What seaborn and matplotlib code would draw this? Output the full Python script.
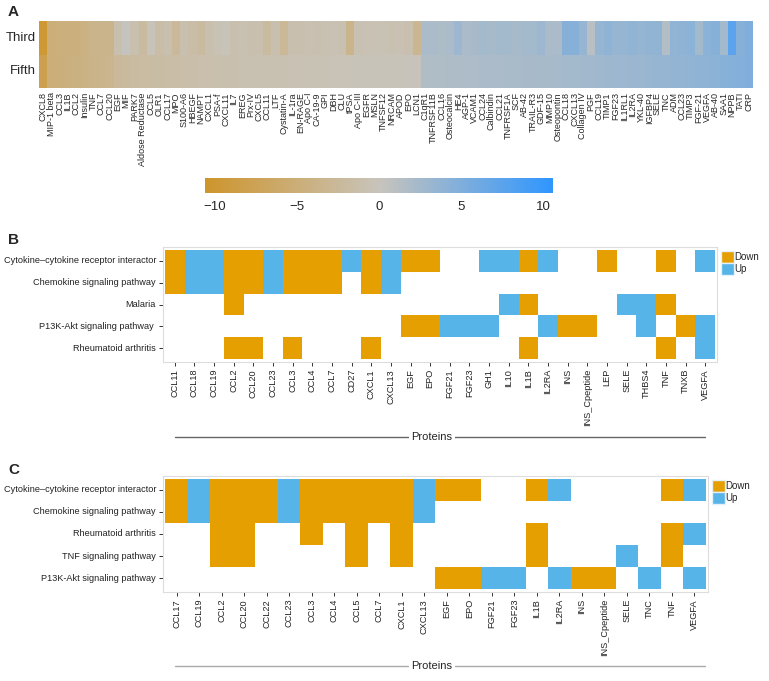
import numpy as np
import pandas as pd
import matplotlib
matplotlib.use("Agg")
import matplotlib.pyplot as plt
import seaborn as sns
from matplotlib.colors import LinearSegmentedColormap, ListedColormap
from matplotlib.patches import Patch
from matplotlib.lines import Line2D

# ---------------- panel A data ----------------
a_proteins = [
    "CXCL8", "MIP-1 beta", "CCL3", "IL1B", "CCL2", "Insulin", "TNF", "CCL7", "CCL20", "EGF",
    "MIF", "PARK7", "Aldose Reductase", "CCL5", "OLR1", "CCL17", "MPO", "S100-A6", "HBEGF", "NAMPT",
    "CXCL1", "PSA-f", "CXCL11", "IL7", "EREG", "Prx-IV", "CXCL5", "CCL11", "LTF", "Cystatin-A",
    "IL-1ra", "EN-RAGE", "Apo C-I", "CA-19-9", "GPI", "DBH", "CLU", "tPSA", "Apo C-III", "EGFR",
    "MSLN", "TNFSF12", "NRCAM", "APOD", "EPO", "LCN1", "C1qR1", "TNFRSF11B", "CCL16", "Osteocalcin",
    "HE4", "AGP-1", "VCAM1", "CCL24", "Calbindin", "CCL21", "TNFRSF1A", "SCF", "AB-42", "TRAIL-R3",
    "GDF-15", "MMP10", "Osteopontin", "CCL18", "CXCL13", "Collagen IV", "PGF", "CCL19", "TIMP1", "FGF23",
    "IL1RL1", "IL2RA", "YKL-40", "IGFBP4", "SELE", "TNC", "ADM", "CCL23", "TIMP3", "FGF-21",
    "VEGFA", "AB-40", "SAA1", "NPPB", "TATI", "CRP",
]
a_rows = ["Third", "Fifth"]
third = [
    -10.0, -5.0, -4.5, -4.5, -4.5, -4.0, -3.5, -3.5, -3.5, -1.0,
    0.3, -1.0, -2.0, -0.3, -1.5, -1.0, -2.5, -1.0, -1.5, -2.0,
    -1.0, -0.5, -0.2, -1.0, -0.8, -1.0, -1.0, -2.0, -1.0, -2.8,
    -1.0, -1.0, -0.8, -1.0, -0.8, -0.6, -0.8, -3.5, -0.8, -0.6,
    -0.5, -0.5, -0.8, -0.6, -1.0, -3.2, 2.0, 2.0, 1.8, 2.0,
    3.0, 2.0, 2.2, 2.5, 2.3, 2.5, 2.5, 2.3, 2.5, 2.5,
    3.0, 2.0, 2.0, 4.5, 4.5, 3.5, 1.0, 3.5, 4.0, 3.5,
    3.5, 3.8, 3.5, 3.8, 3.8, 1.5, 3.8, 4.0, 4.2, 2.5,
    4.2, 4.5, 2.5, 7.5, 4.5, 5.0,
]
fifth = [
    -8.0, -5.0, -4.8, -4.5, -4.3, -4.0, -3.8, -3.5, -3.3, -2.5,
    -2.3, -2.0, -1.9, -1.8, -1.7, -1.6, -1.5, -1.4, -1.3, -1.2,
    -1.2, -1.1, -1.0, -1.0, -0.9, -0.9, -0.8, -0.8, -0.7, -0.7,
    -0.6, -0.6, -0.5, -0.5, -0.5, -0.4, -0.4, -0.4, -0.3, -0.3,
    -0.3, -0.2, -0.2, -0.2, -0.1, -0.1, 1.6, 1.7, 1.7, 1.8,
    1.8, 1.9, 1.9, 2.0, 2.0, 2.0, 2.1, 2.1, 2.2, 2.2,
    2.3, 2.3, 2.4, 2.5, 2.5, 2.6, 2.7, 2.8, 2.9, 3.0,
    3.0, 3.1, 3.2, 3.3, 3.4, 3.5, 3.6, 3.7, 3.8, 3.9,
    4.0, 4.2, 4.4, 4.6, 4.8, 5.0,
]

# ---------------- panel B data (D = Down, U = Up, . = none) ----------------
b_proteins = ["CCL11", "CCL18", "CCL19", "CCL2", "CCL20", "CCL23", "CCL3", "CCL4", "CCL7", "CD27",
              "CXCL1", "CXCL13", "EGF", "EPO", "FGF21", "FGF23", "GH1", "IL10", "IL1B", "IL2RA",
              "INS", "INS_Cpeptide", "LEP", "SELE", "THBS4", "TNF", "TNXB", "VEGFA"]
b_pathways = ["Cytokine\u2013cytokine receptor interactor", "Chemokine signaling pathway", "Malaria",
              "P13K-Akt signaling pathway ", "Rheumatoid arthritis"]
b_cytokine = "DUUDDUDDDUDUDD..UUDU..D..D.U"
b_chemokine = "DUUDDUDDD.DU................"
b_malaria = "...D.............UD....UUD.."
b_p13k = "............DDUUU..UDD..U.DU"
b_rheumatoid = "...DD.D...D.......D......D.U"

# ---------------- panel C data ----------------
c_proteins = ["CCL17", "CCL19", "CCL2", "CCL20", "CCL22", "CCL23", "CCL3", "CCL4", "CCL5", "CCL7",
              "CXCL1", "CXCL13", "EGF", "EPO", "FGF21", "FGF23", "IL1B", "IL2RA", "INS", "INS_Cpeptide",
              "SELE", "TNC", "TNF", "VEGFA"]
c_pathways = ["Cytokine\u2013cytokine receptor interactor", "Chemokine signaling pathway",
              "Rheumatoid arthritis", "TNF signaling pathway", "P13K-Akt signaling pathway"]
c_cytokine = "DUDDDUDDDDDUDD..DU....DU"
c_chemokine = "DUDDDUDDDDDU............"
c_rheumatoid = "..DD..D.D.D.....D.....DU"
c_tnf = "..DD....D.D.....D...U.D."
c_p13k = "............DDUU.UDD.U.U"

DOWN, UP = "#E69F00", "#56B4E9"

W, H = 769, 681


def box(x0, y0, x1, y1):
    return [x0 / W, 1 - y1 / H, (x1 - x0) / W, (y1 - y0) / H]


def fx(x):
    return x / W


def fy(y):
    return 1 - y / H


def code_frame(rows, names, cols):
    m = {"D": 0.0, "U": 1.0, ".": np.nan}
    return pd.DataFrame([[m[c] for c in r] for r in rows], index=names, columns=cols)


sns.set_style("white")
plt.rcParams["font.family"] = ["Liberation Sans", "DejaVu Sans"]

fig = plt.figure(figsize=(W / 100, H / 100), dpi=100)

# ---------------- A ----------------
dfA = pd.DataFrame([third, fifth], index=a_rows, columns=a_proteins)
cmapA = LinearSegmentedColormap.from_list("gb", ["#CE952C", "#C8C4BC", "#2F96FF"])
axA = fig.add_axes(box(39, 21, 753, 88))
cax = fig.add_axes(box(205, 178, 553, 193))
sns.heatmap(dfA, ax=axA, cmap=cmapA, vmin=-10.6, vmax=10.6, xticklabels=True,
            cbar_ax=cax, cbar_kws={"orientation": "horizontal", "ticks": [-10, -5, 0, 5, 10]})
axA.set_xticklabels(a_proteins, rotation=90, fontsize=6.5)
axA.set_yticklabels(a_rows, rotation=0, fontsize=9.5)
axA.tick_params(length=0, pad=2)
axA.tick_params(axis="x", pad=3)
cax.tick_params(labelsize=9.5, length=3, color="white", pad=3)
axA.collections[0].colorbar.outline.set_visible(False)
fig.text(fx(8), fy(12), "A", fontsize=11, fontweight="bold", va="center")


def pathway_panel(df, rect, label, label_y, line_y, line_color):
    ax = fig.add_axes(rect)
    sns.heatmap(df, ax=ax, cmap=ListedColormap([DOWN, UP]), vmin=0, vmax=1, cbar=False,
                linewidths=0, xticklabels=True, yticklabels=True)
    n_r, n_c = df.shape
    ax.set_xlim(-0.1, n_c + 0.1)
    ax.set_ylim(n_r + 0.12, -0.12)
    for s in ax.spines.values():
        s.set_visible(True)
        s.set_color("#dddddd")
        s.set_linewidth(0.8)
    ax.set_xticklabels(df.columns, rotation=90, fontsize=6.6, color="#222222")
    ax.set_yticklabels(df.index, rotation=0, fontsize=6.6, color="#222222")
    ax.tick_params(bottom=True, left=True, length=3, width=0.7, color="#333333", pad=2)
    ax.set_xlabel("")
    ax.set_ylabel("")
    handles = [Patch(facecolor=DOWN, edgecolor="#e6f0f8", label="Down"),
               Patch(facecolor=UP, edgecolor="#e6f0f8", label="Up")]
    ax.legend(handles=handles, loc="upper left", bbox_to_anchor=(1.0, 1.0), frameon=False,
              fontsize=7, handlelength=1.3, handleheight=1.5, handletextpad=0.1,
              labelspacing=0.0, borderaxespad=0.3, borderpad=0.1)
    fig.text(fx(8), fy(label_y), label, fontsize=11, fontweight="bold", va="center")
    fig.add_artist(Line2D([fx(175), fx(705)], [fy(line_y), fy(line_y)], color=line_color, lw=1.0))
    fig.text(fx(432), fy(line_y), "Proteins", fontsize=8, ha="center", va="center",
             bbox=dict(facecolor="white", edgecolor="none", pad=2))
    return ax


dfB = code_frame([b_cytokine, b_chemokine, b_malaria, b_p13k, b_rheumatoid], b_pathways, b_proteins)
pathway_panel(dfB, box(163, 247, 717, 362), "B", 240, 437, "#666666")

dfC = code_frame([c_cytokine, c_chemokine, c_rheumatoid, c_tnf, c_p13k], c_pathways, c_proteins)
pathway_panel(dfC, box(163, 476, 708, 592), "C", 470, 666, "#aaaaaa")

fig.savefig("out.png", dpi=100)
